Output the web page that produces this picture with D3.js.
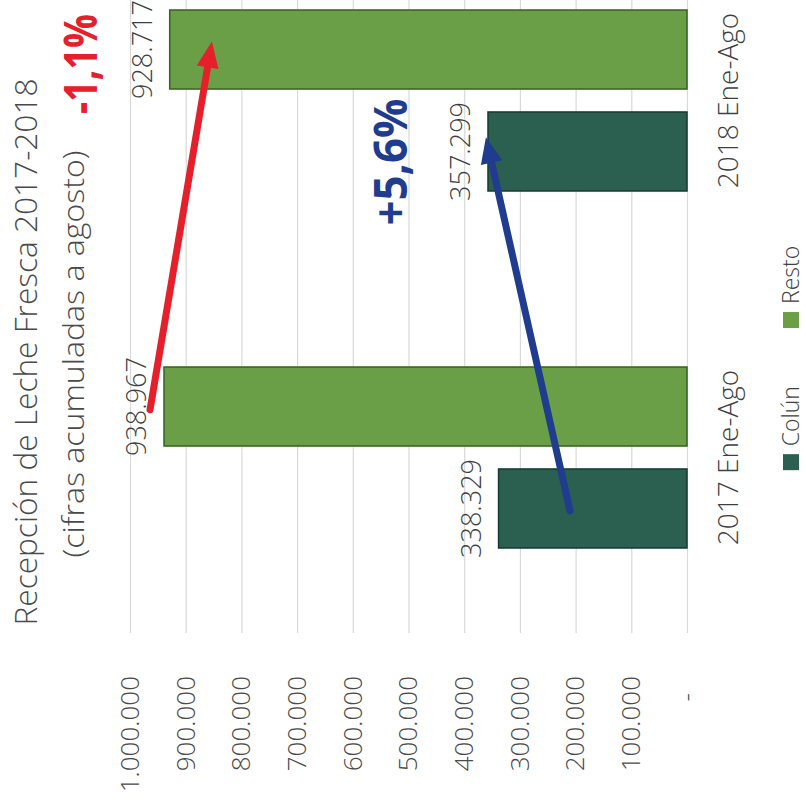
<!DOCTYPE html>
<html><head><meta charset="utf-8">
<script src="https://cdn.jsdelivr.net/npm/d3@7"></script>
<style>
body{margin:0;background:#fff}
svg{display:block}
text{font-family:"Open Sans","Noto Sans",Lato,sans-serif}
</style>
</head><body>
<svg id="chart" width="806" height="802"></svg>
<script>
// ---------- data ----------
const categories = ["2017 Ene-Ago", "2018 Ene-Ago"];
const series = ["Colún", "Resto"];
const colunValues = [338329, 357299];
const restoValues = [938967, 928717];
const tickValues = [0, 100000, 200000, 300000, 400000, 500000, 600000, 700000, 800000, 900000, 1000000];
const titleLines = ["Recepción de Leche Fresca 2017-2018", "(cifras acumuladas a agosto)"];
const changeLabels = ["-1,1%", "+5,6%"];
// arrow anchors in data units (series, value at 2017 tail, value at 2018 tip)
const arrowSeries = ["Resto", "Colún"];
const arrowStartValues = [964000, 210000];
const arrowEndValues = [853000, 361000];

const colors = {"Colún": "#2b5f50", "Resto": "#6a9e47"};
const strokes = {"Colún": "#173a30", "Resto": "#37621f"};

const locale = d3.formatLocale({decimal: ",", thousands: ".", grouping: [3], currency: ["", ""]});
const fmt = locale.format(",d");

const rows = categories.map((c, i) => ({cat: c, "Colún": colunValues[i], "Resto": restoValues[i]}));

// ---------- layout (chart drawn upright, then rotated -90deg) ----------
const W = 806, H = 802;
const svg = d3.select("#chart");
const g = svg.append("g").attr("transform", `translate(0,${H}) rotate(-90)`);

const plotLeft = 169, plotRight = 880;
const y = d3.scaleLinear().domain([0, 1000000]).range([687, 130]);
const x0 = d3.scaleBand().domain(categories).range([166, 880]).paddingInner(0.493).paddingOuter(0.2465);
const x1 = d3.scaleBand().domain(series).range([0, x0.bandwidth()]).paddingInner(0.225);

// gridlines + value axis
const yAxis = g.append("g").attr("transform", `translate(${plotLeft},0)`)
  .call(d3.axisLeft(y).tickValues(tickValues).tickSize(-(plotRight - plotLeft)).tickPadding(43)
    .tickFormat(d => d === 0 ? "-" : fmt(d)));
yAxis.select(".domain").remove();
yAxis.selectAll(".tick line").attr("stroke", "#d9d9d9").attr("stroke-width", 1.2);
yAxis.selectAll(".tick text")
  .attr("font-size", 26).attr("font-weight", 300).attr("fill", "#4a4a4a")
  .style("font-family", '"Open Sans", sans-serif')
  .attr("dx", d => d === 0 ? -17 : 0);

// category axis
const xAxis = g.append("g").attr("transform", `translate(0,${y(0)})`)
  .call(d3.axisBottom(x0).tickSize(0).tickPadding(31));
xAxis.select(".domain").remove();
xAxis.selectAll(".tick text").attr("font-size", 28).attr("font-weight", 300).attr("fill", "#3f3f3f");

// bars
const groups = g.append("g").selectAll("g").data(rows).join("g")
  .attr("transform", d => `translate(${x0(d.cat)},0)`);
groups.selectAll("rect").data(d => series.map(s => ({s, v: d[s]}))).join("rect")
  .attr("x", d => x1(d.s)).attr("width", x1.bandwidth())
  .attr("y", d => y(d.v)).attr("height", d => y(0) - y(d.v))
  .attr("fill", d => colors[d.s]).attr("stroke", d => strokes[d.s]).attr("stroke-width", 1.5);
groups.selectAll("text.val").data(d => series.map(s => ({s, v: d[s]}))).join("text")
  .attr("class", "val")
  .attr("x", d => x1(d.s) + x1.bandwidth() / 2).attr("y", d => y(d.v) - 18)
  .attr("text-anchor", "middle").attr("font-size", 27).attr("font-weight", 300).attr("fill", "#3f3f3f")
  .text(d => fmt(d.v));

// arrows
const arrowColors = ["#e6202b", "#1f3c8e"];
const arrowStartPos = [0.46, 0.47], arrowEndPos = [0.6, 0.68];
arrowSeries.forEach((s, i) => {
  const x0p = x0(categories[0]) + x1(s) + arrowStartPos[i] * x1.bandwidth();
  const y0p = y(arrowStartValues[i]);
  const x1p = x0(categories[1]) + x1(s) + arrowEndPos[i] * x1.bandwidth();
  const y1p = y(arrowEndValues[i]);
  const dx = x1p - x0p, dy = y1p - y0p, L = Math.hypot(dx, dy);
  const ux = dx / L, uy = dy / L, hl = 26, hw = 11;
  const bx = x1p - ux * hl, by = y1p - uy * hl;
  g.append("line").attr("x1", x0p).attr("y1", y0p).attr("x2", bx + ux * 2).attr("y2", by + uy * 2)
    .attr("stroke", arrowColors[i]).attr("stroke-width", 7).attr("stroke-linecap", "round");
  g.append("path")
    .attr("d", `M${x1p},${y1p}L${bx - uy * hw},${by + ux * hw}L${bx + uy * hw},${by - ux * hw}Z`)
    .attr("fill", arrowColors[i]);
});

// title
g.append("text").attr("x", 450).attr("y", 37).attr("text-anchor", "middle")
  .attr("font-size", 32).attr("font-weight", 300).attr("fill", "#4a4a4a")
  .attr("textLength", 547).attr("lengthAdjust", "spacingAndGlyphs").text(titleLines[0]);
g.append("text").attr("x", 448).attr("y", 84).attr("text-anchor", "middle")
  .attr("font-size", 30).attr("font-weight", 300).attr("fill", "#4a4a4a")
  .attr("textLength", 407).attr("lengthAdjust", "spacingAndGlyphs").text(titleLines[1]);

// change labels
g.append("text").attr("x", 738).attr("y", 97).attr("text-anchor", "middle")
  .attr("font-size", 46).attr("font-weight", 700).attr("fill", "#e6202b")
  .attr("textLength", 100).attr("lengthAdjust", "spacingAndGlyphs").text(changeLabels[0]);
g.append("text").attr("x", 640).attr("y", 407).attr("text-anchor", "middle")
  .attr("font-size", 47).attr("font-weight", 700).attr("fill", "#1f3c8e")
  .attr("textLength", 127).attr("lengthAdjust", "spacingAndGlyphs").text(changeLabels[1]);

// legend
const legend = g.append("g").attr("transform", "translate(444,791)");
const items = legend.selectAll("g").data(series).join("g");
items.append("rect").attr("width", 16).attr("height", 16).attr("y", -8)
  .attr("fill", d => colors[d]);
items.append("text").attr("x", 24).attr("y", 0).attr("dy", "0.35em")
  .attr("font-size", 23).attr("font-weight", 300).attr("fill", "#3f3f3f").text(d => d);
let off = 0; const widths = [];
items.each(function() { widths.push(this.getBBox().width); });
const gap = 58, total = d3.sum(widths) + gap * (widths.length - 1);
items.attr("transform", (d, i) => {
  const t = `translate(${-total / 2 + off},0)`; off += widths[i] + gap; return t;
});
</script>
</body></html>
